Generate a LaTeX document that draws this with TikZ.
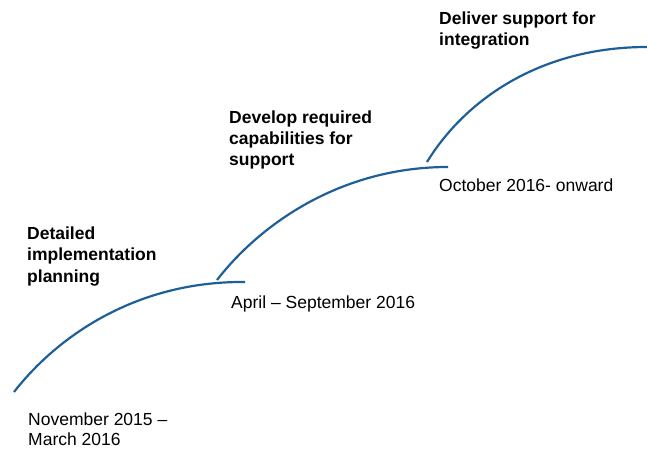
\documentclass[tikz,border=0pt]{standalone}
\usepackage{fontspec}
\setmainfont{Liberation Sans}
\definecolor{arcblue}{HTML}{1F5F98}
\begin{document}
\begin{tikzpicture}[x=1pt,y=-1pt,
  arcline/.style={draw=arcblue,line width=2.2pt},
  title/.style={anchor=base west,inner sep=0pt,align=left,font=\fontsize{17.5}{21.5}\selectfont\bfseries},
  datelbl/.style={anchor=base west,inner sep=0pt,align=left,font=\fontsize{17.5}{19.5}\selectfont}]
\useasboundingbox (0,0) rectangle (647,449);
% arc end points
\coordinate (a1s) at (14,392);
\coordinate (a1e) at (245,282);
\coordinate (a2s) at (217,280);
\coordinate (a2e) at (448,167);
\coordinate (a3s) at (427,162);
\coordinate (a3e) at (647,47);
\draw[arcline] (a1s) .. controls (60,333) and (140,281) .. (a1e);
\draw[arcline] (a2s) .. controls (262,222) and (343,167) .. (a2e);
\draw[arcline] (a3s) .. controls (465,100) and (540,47) .. (a3e);
% titles (anchor = baseline of last line)
\node[title] (t1) at (27,282) {Detailed\\implementation\\planning};
\node[title] (t2) at (229,166) {Develop required\\capabilities for\\support};
\node[title] (t3) at (439,46) {Deliver support for\\integration};
% dates
\node[datelbl] (d1) at (28,445) {November 2015 --\\March 2016};
\node[datelbl] (d2) at (231,308) {April -- September 2016};
\node[datelbl] (d3) at (439,191) {October 2016- onward};
\end{tikzpicture}
\end{document}
